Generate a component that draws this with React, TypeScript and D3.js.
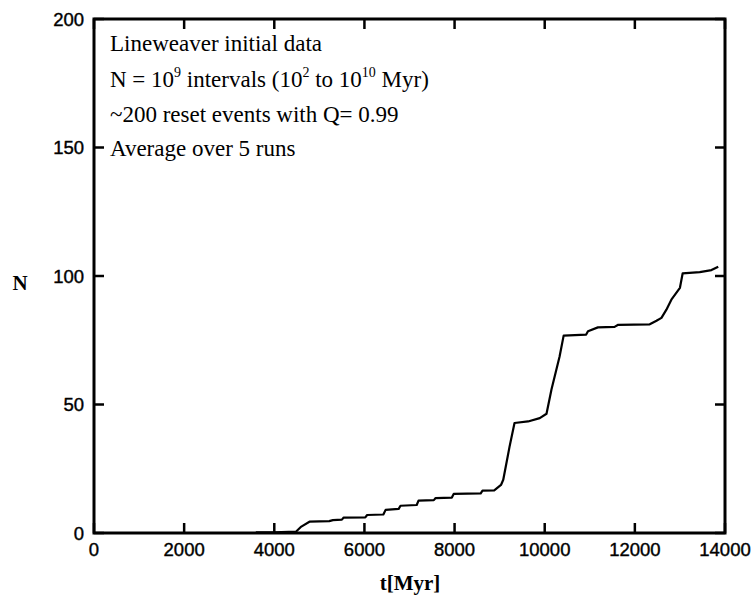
import React from "react";
import * as d3 from "d3";

const tValues = [3590, 4000, 4480, 4600, 4780, 5220, 5300, 5500, 5540, 6020, 6060, 6420, 6470, 6760, 6800, 7160, 7200, 7540, 7580, 7940, 7980, 8580, 8620, 8880, 9030, 9080, 9220, 9330, 9630, 9890, 10040, 10150, 10330, 10420, 10920, 10960, 11180, 11550, 11630, 12330, 12480, 12590, 12700, 12810, 13000, 13060, 13440, 13700, 13850];
const nValues = [0.3, 0.3, 0.5, 2.5, 4.4, 4.6, 5.0, 5.2, 6.0, 6.1, 7.0, 7.2, 9.0, 9.4, 10.6, 10.9, 12.6, 12.8, 13.6, 13.8, 15.2, 15.4, 16.5, 16.6, 18.7, 20.7, 33.6, 42.8, 43.4, 44.7, 46.4, 55.8, 68.7, 76.8, 77.2, 78.5, 80.0, 80.2, 81.0, 81.2, 82.6, 83.7, 86.9, 90.8, 95.4, 101.0, 101.5, 102.3, 103.6];
const xTicks = [0, 2000, 4000, 6000, 8000, 10000, 12000, 14000];
const yTicks = [0, 50, 100, 150, 200];
const notes = ["Lineweaver initial data", "~200 reset events with Q= 0.99", "Average over 5 runs"];

export default function App() {
  const W = 753, H = 601;
  const L = 94, R = 725, T = 19, B = 533;
  const x = d3.scaleLinear().domain([0, 14000]).range([L, R]);
  const y = d3.scaleLinear().domain([0, 200]).range([B, T]);
  const line = d3.line<number>().x((_, i) => x(tValues[i])).y((d) => y(d));
  const tick = 10;
  const serif = "'Liberation Serif', 'Times New Roman', serif";
  const sans = "'Liberation Sans', Arial, sans-serif";
  return (
    <svg width={W} height={H} style={{ position: "absolute", left: 0, top: 0 }}>
      <rect width={W} height={H} fill="#fff" />
      {xTicks.map((t) => (
        <g key={"x" + t}>
          <line x1={x(t)} x2={x(t)} y1={B} y2={B - tick} stroke="#000" strokeWidth={2.5} />
          <line x1={x(t)} x2={x(t)} y1={T} y2={T + tick} stroke="#000" strokeWidth={2.5} />
          <text x={x(t)} y={B + 23} textAnchor="middle" fontFamily={sans} fontSize={18.5} fill="#000" stroke="#000" strokeWidth={0.4}>{t}</text>
        </g>
      ))}
      {yTicks.map((v) => (
        <g key={"y" + v}>
          <line x1={L} x2={L + tick} y1={y(v)} y2={y(v)} stroke="#000" strokeWidth={2.5} />
          <line x1={R} x2={R - tick} y1={y(v)} y2={y(v)} stroke="#000" strokeWidth={2.5} />
          <text x={L - 10} y={y(v) + 6.5} textAnchor="end" fontFamily={sans} fontSize={18.5} fill="#000" stroke="#000" strokeWidth={0.4}>{v}</text>
        </g>
      ))}
      <rect x={L} y={T} width={R - L} height={B - T} fill="none" stroke="#000" strokeWidth={3} />
      <path d={line(nValues) || ""} fill="none" stroke="#000" strokeWidth={2.2} strokeLinejoin="round" />
      <g fontFamily={serif} fontSize={23} fill="#000">
        <text x={110} y={51}>{notes[0]}</text>
        <text x={110} y={87}>
          N = 10<tspan dy={-10} fontSize={14}>9</tspan><tspan dy={10}> intervals (10</tspan><tspan dy={-10} fontSize={14}>2</tspan><tspan dy={10}> to 10</tspan><tspan dy={-10} fontSize={14}>10</tspan><tspan dy={10}> Myr)</tspan>
        </text>
        <text x={110} y={122}>{notes[1]}</text>
        <text x={110} y={156}>{notes[2]}</text>
      </g>
      <text x={410} y={590} textAnchor="middle" fontFamily={serif} fontSize={21} fontWeight="bold" fill="#000">t[Myr]</text>
      <text x={20} y={290} textAnchor="middle" fontFamily={serif} fontSize={21} fontWeight="bold" fill="#000">N</text>
    </svg>
  );
}
